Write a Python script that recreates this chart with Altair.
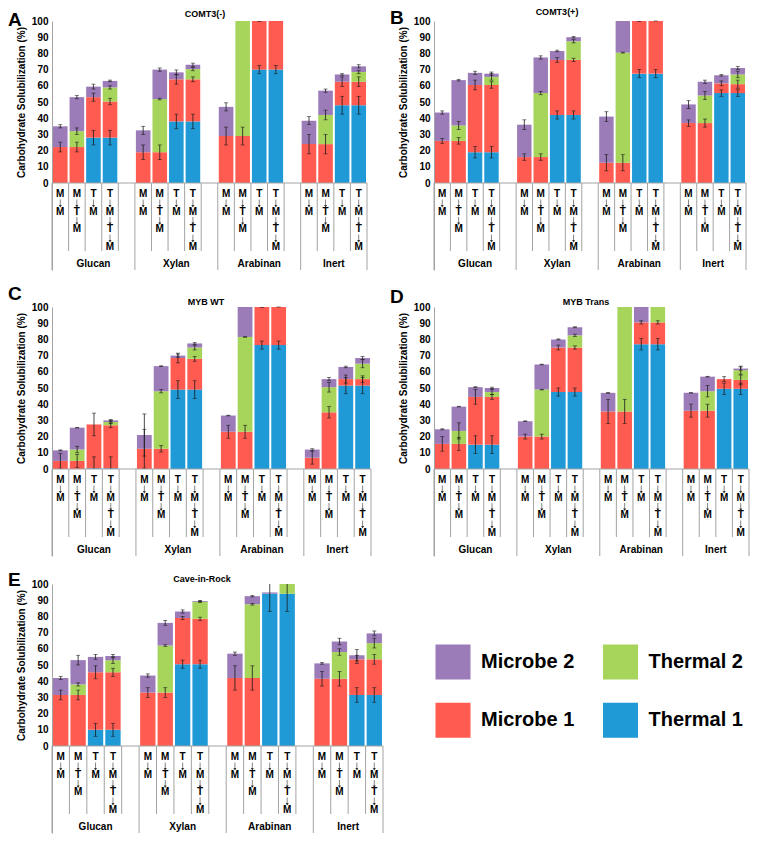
import altair as alt
import pandas as pd

FONT = "Liberation Sans"
GRAY = "#a3a3a3"
INK = "#1a1a1a"

GROUPS = ["Glucan", "Xylan", "Arabinan", "Inert"]
SEQUENCES = [["M", "M"], ["M", "T", "M"], ["T", "M"], ["T", "M", "T", "M"]]
SERIES = ["Thermal 1", "Microbe 1", "Thermal 2", "Microbe 2"]
COLORS = ["#1f9ad7", "#ff5b50", "#a7d55b", "#9b7bb8"]
LEGEND_ORDER = ["Microbe 2", "Thermal 2", "Microbe 1", "Thermal 1"]
PANEL_LETTERS = ["A", "B", "C", "D", "E"]
PANEL_TITLES = ["COMT3(-)", "COMT3(+)", "MYB WT", "MYB Trans", "Cave-in-Rock"]
Y_TICKS = list(range(0, 101, 10))
Y_TITLE = "Carbohydrate Solubilization (%)"

# bar order inside each group: M->M, M->T->M, T->M, T->M->T->M ; groups Glucan, Xylan, Arabinan, Inert
# ---- Panel A: COMT3(-)
A_T1 = [0, 0, 28, 28, 0, 0, 38, 38, 0, 0, 70, 70, 0, 0, 48, 48]
A_M1 = [22.2, 22.2, 25, 22.3, 19, 19, 26, 26, 29, 29, 30.3, 31, 24, 24, 14.5, 14.5]
A_T2 = [0, 9.8, 0, 8.7, 0, 32.8, 0, 6.3, 0, 72, 0, 0, 0, 18, 0, 6]
A_M2 = [12.8, 21, 6.5, 4, 13.5, 18.2, 4.3, 2.7, 18, 0, 0, 0, 14.5, 15, 4.5, 3.5]
A_eT1 = [0, 0, 4.5, 4.5, 0, 0, 4.5, 4.5, 0, 0, 2.5, 2.5, 0, 0, 5.5, 5.5]
A_eM1 = [3, 3, 2.5, 2, 4.5, 4.5, 3, 1.5, 5.5, 5.5, 0.6, 0.5, 6, 6, 3, 3]
A_eT2 = [0, 2, 0, 1, 0, 0.5, 0, 1, 0, 0, 0, 0, 0, 3, 0, 1]
A_eM2 = [1, 1, 1.5, 0.5, 2.5, 1, 1.5, 1, 2.5, 0, 0, 0, 2.5, 1, 0.5, 1]
# ---- Panel B: COMT3(+)
B_T1 = [0, 0, 19, 19, 0, 0, 42, 42, 0, 0, 67.5, 67.5, 0, 0, 55.5, 55.5]
B_M1 = [26, 26, 41.5, 41.5, 16, 16, 34, 34, 12.5, 12.5, 32.8, 33, 37, 37, 6, 5.5]
B_T2 = [0, 9.5, 0, 5, 0, 39.5, 0, 11.5, 0, 68, 0, 0, 0, 17, 0, 6]
B_M2 = [17.5, 28, 7.5, 2, 20, 22, 5.5, 2.5, 28.5, 20, 0, 0, 11.5, 8.5, 5, 4]
B_eT1 = [0, 0, 3.5, 3.5, 0, 0, 2.5, 2.5, 0, 0, 2.5, 2.5, 0, 0, 2, 2]
B_eM1 = [1.5, 2, 3, 2, 2, 2, 1.5, 1, 5, 5, 0.6, 0.5, 2, 2.5, 1.5, 2.5]
B_eT2 = [0, 2.5, 0, 2, 0, 1, 0, 1, 0, 0.3, 0, 0, 0, 2.5, 0, 2]
B_eM2 = [1, 0.5, 1, 1, 3, 1, 0.5, 0.5, 3, 0, 0, 0, 2.5, 1, 0.5, 1]
# ---- Panel C: MYB WT
C_T1 = [0, 0, 0.5, 0.5, 0, 0, 49, 49, 0, 0, 76.5, 76.5, 0, 0, 51.5, 51.5]
C_M1 = [5, 5, 27, 26.5, 12.5, 12.5, 19.5, 19, 23, 23, 23.8, 24, 7, 35, 4, 4]
C_T2 = [0, 7, 0, 2, 0, 35.5, 0, 7, 0, 58.5, 0, 0, 0, 15.5, 0, 9.5]
C_M2 = [6.5, 13.5, 0, 1, 8.5, 15.5, 1.5, 2.5, 10, 19, 0, 0, 5, 5, 7.5, 3.5]
C_eT1 = [0, 0, 7, 7, 0, 0, 5.5, 5.5, 0, 0, 2.5, 2.5, 0, 0, 5, 5]
C_eM1 = [4.5, 4, 7, 1.5, 12, 2, 3, 1.5, 4, 4, 0.6, 0.5, 4, 3.5, 2.5, 2]
C_eT2 = [0, 2, 0, 1, 0, 1, 0, 1.5, 0, 0.2, 0, 0, 0, 3, 0, 2.5]
C_eM2 = [0.3, 0.2, 0, 0.5, 13, 0.2, 1, 0.5, 0.2, 0, 0, 0, 0.5, 1, 0.5, 1]
# ---- Panel D: MYB Trans
D_T1 = [0, 0, 15, 15, 0, 0, 47.5, 47.5, 0, 0, 77, 77, 0, 0, 49.5, 49.5]
D_M1 = [15.5, 15.5, 29.5, 29.5, 20, 20, 27.5, 27.5, 35.5, 35.5, 13.5, 13.5, 36, 36, 6, 5.5]
D_T2 = [0, 8, 0, 3, 0, 29, 0, 7.5, 0, 66, 0, 10, 0, 12, 0, 6]
D_M2 = [9, 15, 6, 2.5, 9.5, 15.5, 5, 5, 11.5, 0, 10, 0, 11, 9, 0, 1]
D_eT1 = [0, 0, 5.5, 5.5, 0, 0, 2.5, 2.5, 0, 0, 3.5, 3.5, 0, 0, 3.5, 3.5]
D_eM1 = [4.5, 4, 4.5, 1.5, 1.5, 1.5, 1.5, 1, 7.5, 7.5, 1, 1, 4, 4, 1.5, 3]
D_eT2 = [0, 5, 0, 1.5, 0, 0.2, 0, 0.7, 0, 0, 0, 0, 0, 3.5, 0, 2.5]
D_eM2 = [0.3, 0.2, 0.3, 0.5, 0.2, 0.2, 0.3, 0.3, 0.2, 0, 0, 0, 0.2, 0.2, 0, 1]
# ---- Panel E: Cave-in-Rock
E_T1 = [0, 0, 10, 10, 0, 0, 50.5, 50.5, 0, 0, 94, 94, 0, 0, 31.5, 31.5]
E_M1 = [31.5, 31.5, 35.5, 35.5, 33, 33, 28.5, 28, 42, 42, 0, 0, 41.5, 41.5, 22, 22]
E_T2 = [0, 6.5, 0, 7.5, 0, 29, 0, 10.5, 0, 45.5, 0, 6.5, 0, 16.5, 0, 10]
E_M2 = [10.5, 15, 9.5, 2.5, 10.5, 14, 4, 0.5, 15, 5, 0.8, 0, 9.5, 6.5, 2.5, 6]
E_eT1 = [0, 0, 4, 4, 0, 0, 2.5, 2.5, 0, 0, 11, 11, 0, 0, 4.5, 4.5]
E_eM1 = [3, 3, 4, 2.5, 3, 3, 1, 1, 7.5, 7.5, 0, 0, 4.5, 4.5, 2.5, 3]
E_eT2 = [0, 1, 0, 2, 0, 0.5, 0, 0.5, 0, 0.5, 0, 0, 0, 2, 0, 3]
E_eM2 = [1, 3, 1.5, 1, 1, 1.5, 1, 0.3, 1, 0.5, 0, 0, 0.5, 2, 3.5, 1.5]

NSLOT = 19
PLOT_H = 162          # pixel height of the 0-100 range
LABEL_PX = 87         # pixel depth of the category label area below 0
PX = 100.0 / PLOT_H   # data units per pixel
LOW = -LABEL_PX * PX  # bottom of the extended y domain


def stack_table(vals, errs):
    rows = []
    for i in range(16):
        g, b = divmod(i, 4)
        slot = g * 5 + b
        for order, s in enumerate(SERIES):
            rows.append({"slot": slot, "series": s, "order": order,
                         "value": vals[order][i], "err": errs[order][i]})
    return pd.DataFrame(rows)


label_rows = []
for i in range(16):
    g, b = divmod(i, 4)
    seq = SEQUENCES[b]
    for k, ch in enumerate(seq):
        label_rows.append({"slot": g * 5 + b, "k": k, "ch": ch, "kind": "letter"})
        if k < len(seq) - 1:
            label_rows.append({"slot": g * 5 + b, "k": k, "ch": "", "kind": "arrow"})
LABELS = pd.DataFrame(label_rows)

GROUP_TABLE = pd.DataFrame([{"name": n, "start": g * 5, "end": min(g * 5 + 5, NSLOT)}
                            for g, n in enumerate(GROUPS)])
div_rows = []
for p in range(NSLOT + 1):
    div_rows.append({"pos": p, "level": "outer" if (p % 5 == 0 or p == NSLOT) else "inner"})
DIVIDERS = pd.DataFrame(div_rows)
BASELINE = pd.DataFrame({"x0": [0], "x1": [NSLOT], "y": [0]})


def panel(letter, title, table, W, title_x, title_y, letter_y):
    H = PLOT_H
    xs = alt.Scale(domain=[0, NSLOT], nice=False, zero=False)
    ys = alt.Scale(domain=[LOW, 100], nice=False, zero=False)
    Xq = lambda f: alt.X(f, scale=xs, axis=None)
    yaxis = alt.Axis(values=Y_TICKS, grid=False, ticks=False, domainColor=GRAY,
                     labelFont=FONT, labelFontSize=10, labelFontWeight="bold",
                     labelColor="#000", labelPadding=4,
                     titleFont=FONT, titleFontSize=10, titleFontWeight="bold",
                     titleColor="#000", titlePadding=5, titleY=H / 2)
    Yq = lambda f: alt.Y(f, scale=ys, axis=yaxis, title=Y_TITLE)

    base = (alt.Chart(table)
            .transform_stack(stack="value", groupby=["slot"], as_=["y0", "y1"],
                             sort=[alt.SortField("order", order="ascending")])
            .transform_filter("datum.value > 0")
            .transform_calculate(xl="datum.slot + 0.06", xr="datum.slot + 0.94",
                                 xc="datum.slot + 0.5",
                                 top="min(100, datum.y1)",
                                 lo="datum.y1 - datum.err", hi="datum.y1 + datum.err",
                                 lo_c="max(0, min(100, datum.y1 - datum.err))",
                                 hi_c="max(0, min(100, datum.y1 + datum.err))"))
    bars = base.mark_bar(clip=True).encode(
        x=Xq("xl:Q"), x2="xr:Q", y=Yq("y0:Q"), y2="top:Q",
        color=alt.Color("series:N", scale=alt.Scale(domain=SERIES, range=COLORS), legend=None),
    )
    ebase = base.transform_filter("datum.err > 0")
    erule = ebase.mark_rule(color=INK, strokeWidth=0.8).encode(
        x=Xq("xc:Q"), y=Yq("lo_c:Q"), y2="hi_c:Q")
    ecap = (ebase.transform_fold(["lo", "hi"], as_=["cap", "capv"])
            .transform_filter("datum.capv >= 0 && datum.capv <= 100")
            .mark_tick(orient="horizontal", size=4, thickness=0.8, color=INK)
            .encode(x=Xq("xc:Q"), y=Yq("capv:Q")))
    baseline = alt.Chart(BASELINE).mark_rule(color=GRAY, strokeWidth=1).encode(
        x=Xq("x0:Q"), x2="x1:Q", y=Yq("y:Q"))
    dividers = (alt.Chart(DIVIDERS)
                .transform_calculate(top0="0",
                                     bot=f"-(datum.level == 'outer' ? {LABEL_PX} : 68) * {PX}")
                .mark_rule(color=GRAY, strokeWidth=1)
                .encode(x=Xq("pos:Q"), y=Yq("top0:Q"), y2="bot:Q"))
    letters = (alt.Chart(LABELS).transform_filter("datum.kind == 'letter'")
               .transform_calculate(xc="datum.slot + 0.5", ly=f"-(11.4 + 17.5 * datum.k) * {PX}")
               .mark_text(font=FONT, fontSize=10, fontWeight="bold", color="#000",
                          baseline="middle", align="center")
               .encode(x=Xq("xc:Q"), y=Yq("ly:Q"), text="ch:N"))
    arrow_base = (alt.Chart(LABELS).transform_filter("datum.kind == 'arrow'")
                  .transform_calculate(xc="datum.slot + 0.5",
                                       a0=f"-(16.5 + 17.5 * datum.k) * {PX}",
                                       a1=f"-(23.5 + 17.5 * datum.k) * {PX}",
                                       ah=f"-(23.3 + 17.5 * datum.k) * {PX}"))
    stems = arrow_base.mark_rule(color="#777", strokeWidth=0.9).encode(
        x=Xq("xc:Q"), y=Yq("a0:Q"), y2="a1:Q")
    heads = arrow_base.mark_point(shape="triangle-down", filled=True, size=9,
                                  color="#333", opacity=1).encode(
        x=Xq("xc:Q"), y=Yq("ah:Q"))
    glabels = (alt.Chart(GROUP_TABLE)
               .transform_calculate(xc="(datum.start + datum.end) / 2", ly=f"-80.7 * {PX}")
               .mark_text(font=FONT, fontSize=10, fontWeight="bold", color="#000",
                          baseline="middle", align="center")
               .encode(x=Xq("xc:Q"), y=Yq("ly:Q"), text="name:N"))
    ttl = alt.Chart(pd.DataFrame({"t": [title]})).mark_text(
        font=FONT, fontSize=9, fontWeight="bold", color="#000",
        baseline="middle", align="center").encode(
        text="t:N", x=alt.value(title_x), y=alt.value(title_y))
    ltr = alt.Chart(pd.DataFrame({"t": [letter]})).mark_text(
        font=FONT, fontSize=19, fontWeight="bold", color="#000",
        baseline="middle", align="left").encode(
        text="t:N", x=alt.value(-44), y=alt.value(letter_y))
    return alt.layer(bars, erule, ecap, baseline, dividers, letters, stems, heads,
                     glabels, ttl, ltr).properties(width=W, height=H + LABEL_PX)


pA = panel(PANEL_LETTERS[0], PANEL_TITLES[0],
           stack_table([A_T1, A_M1, A_T2, A_M2], [A_eT1, A_eM1, A_eT2, A_eM2]),
           315, 153, -6.6, -1)
pB = panel(PANEL_LETTERS[1], PANEL_TITLES[1],
           stack_table([B_T1, B_M1, B_T2, B_M2], [B_eT1, B_eM1, B_eT2, B_eM2]),
           312, 123, -9, -3)
pC = panel(PANEL_LETTERS[2], PANEL_TITLES[2],
           stack_table([C_T1, C_M1, C_T2, C_M2], [C_eT1, C_eM1, C_eT2, C_eM2]),
           319, 154, -5.4, -13)
pD = panel(PANEL_LETTERS[3], PANEL_TITLES[3],
           stack_table([D_T1, D_M1, D_T2, D_M2], [D_eT1, D_eM1, D_eT2, D_eM2]),
           315, 152, -5, -10)
pE = panel(PANEL_LETTERS[4], PANEL_TITLES[4],
           stack_table([E_T1, E_M1, E_T2, E_M2], [E_eT1, E_eM1, E_eT2, E_eM2]),
           331, 150, -5, -4)

leg_df = pd.DataFrame({"series": LEGEND_ORDER, "col": [0, 1, 0, 1], "row": [0, 0, 1, 1]})
leg_base = alt.Chart(leg_df).transform_calculate(
    sx="49 + 167.5 * datum.col", tx="77 + 167.5 * datum.col", sy="78 + 58.3 * datum.row")
leg_sq = leg_base.mark_square(size=1225, opacity=1).encode(
    x=alt.X("sx:Q", scale=None), y=alt.Y("sy:Q", scale=None),
    color=alt.Color("series:N", scale=alt.Scale(domain=SERIES, range=COLORS), legend=None))
leg_tx = leg_base.mark_text(font=FONT, fontSize=20, fontWeight="bold", color="#000",
                            align="left", baseline="middle").encode(
    x=alt.X("tx:Q", scale=None), y=alt.Y("sy:Q", scale=None), text="series:N")
legend = alt.layer(leg_sq, leg_tx).properties(width=320, height=180)

row1 = alt.hconcat(pA, pB, spacing=22)
row2 = alt.hconcat(pC, pD, spacing=18)
row3 = alt.hconcat(pE, legend, spacing=20)

chart = (alt.vconcat(row1, row2, row3, spacing=14)
         .properties(padding={"left": 0, "top": 0, "right": 0, "bottom": 0})
         .configure_view(stroke=None))

chart.save("out.html", embed_options={"renderer": "svg", "actions": False})
